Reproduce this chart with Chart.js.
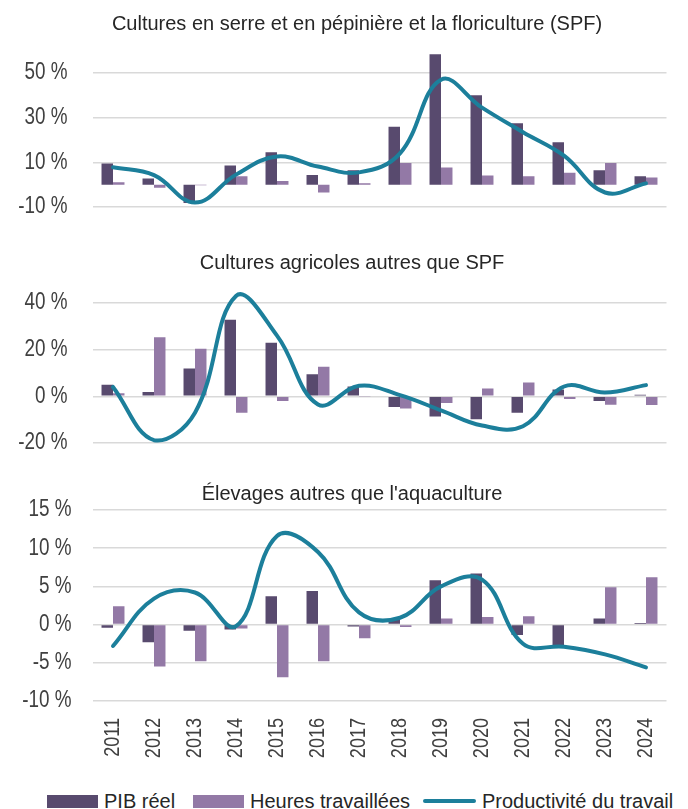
<!DOCTYPE html>
<html>
<head>
<meta charset="utf-8">
<script src="https://cdn.jsdelivr.net/npm/chart.js@4.4.1/dist/chart.umd.min.js"></script>
<style>
    body {
        margin: 0;
        background: #fff;
        width: 688px;
        height: 809px;
        overflow: hidden;
        position: relative;
        font-family: "Liberation Sans", Arial, sans-serif;
    }
    canvas { position: absolute; left: 0; }
    #chart-spf { top: 0; }
    #chart-agri { top: 235px; }
    #chart-elev { top: 466px; }
    .legend-item {
        position: absolute;
        top: 788px;
        height: 26px;
        display: flex;
        align-items: center;
        font-size: 20px;
        color: #262626;
        white-space: nowrap;
    }
    .swatch { width: 51px; height: 13px; margin-right: 6px; }
    .swatch-line { width: 53px; height: 4px; border-radius: 2px; margin-right: 6px; }
</style>
</head>
<body>
<canvas id="chart-spf" width="704" height="252"></canvas>
<canvas id="chart-agri" width="694" height="253"></canvas>
<canvas id="chart-elev" width="694" height="300"></canvas>

<div class="legend-item" style="left:47px"><span class="swatch" style="background:#584a6e"></span>PIB réel</div>
<div class="legend-item" style="left:193px"><span class="swatch" style="background:#9379a6"></span>Heures travaillées</div>
<div class="legend-item" style="left:423px"><span class="swatch-line" style="background:#1c7f9b"></span>Productivité du travail</div>

<script>
// Categories
const years = ['2011', '2012', '2013', '2014', '2015', '2016', '2017',
               '2018', '2019', '2020', '2021', '2022', '2023', '2024'];

// Cultures en serre et en pépinière et la floriculture (SPF), % change
const spfPib     = [9.5, 2.8, -8.2, 8.6, 14.5, 4.3, 6.5, 25.9, 58.4, 40.1, 27.5, 19.0, 6.5, 3.8];
const spfHeures  = [1.1, -1.4, -0.3, 3.8, 1.6, -3.5, 0.6, 9.7, 7.7, 4.1, 3.8, 5.3, 9.7, 3.2];
const spfProd    = [7.8, 4.3, -8.0, 4.5, 12.6, 8.1, 5.5, 14.0, 47.0, 34.5, 23.5, 13.0, -3.5, 0.6];
const spfTicks   = [-10, 10, 30, 50];

// Cultures agricoles autres que SPF
const agriPib    = [5.0, 1.9, 11.9, 32.8, 23.0, 9.4, 4.2, -4.6, -8.6, -9.8, -7.0, 2.9, -2.0, 0.7];
const agriHeures = [1.3, 25.3, 20.4, -7.0, -2.0, 12.7, -0.2, -5.2, -2.9, 3.3, 5.9, -1.2, -3.6, -3.7];
const agriProd   = [4.0, -18.8, -7.0, 43.0, 26.0, -3.5, 4.5, 0.5, -6.0, -12.5, -12.8, 4.2, 1.6, 4.8];
const agriTicks  = [-20, 0, 20, 40];

// Élevages autres que l'aquaculture
const elevPib    = [-0.4, -2.3, -0.8, -0.65, 3.7, 4.4, -0.25, 0.6, 5.8, 6.7, -1.35, -2.9, 0.8, 0.2];
const elevHeures = [2.4, -5.5, -4.8, -0.5, -6.9, -4.8, -1.8, -0.3, 0.8, 1.0, 1.1, 0.0, 4.9, 6.2];
const elevProd   = [-2.8, 3.4, 4.2, -0.2, 11.6, 9.5, 1.6, 0.9, 5.0, 5.9, -2.5, -2.9, -3.9, -5.6];
const elevTicks  = [-10, -5, 0, 5, 10, 15];

const DARK = '#584a6e';
const LIGHT = '#9379a6';
const TEAL = '#1c7f9b';
const TITLE_SIZE = 20;

Chart.defaults.font.family = '"Liberation Sans", Arial, sans-serif';
Chart.defaults.color = '#404040';

// No narrow font installed: squeeze the axis labels horizontally (titles stay normal)
const narrowText = {
    id: 'narrowText',
    beforeInit(chart) {
        const ctx = chart.ctx;
        const fill = ctx.fillText.bind(ctx);
        ctx.fillText = function(text, x, y) {
            const squeeze = ctx.font.indexOf(TITLE_SIZE + 'px') === -1 ? 0.82 : 1;
            ctx.save();
            ctx.translate(x, y);
            ctx.scale(squeeze, 1);
            fill(text, 0, 0);
            ctx.restore();
        };
    }
};

// Build one panel
function makePanel(id, cfg) {
    const ctx = document.getElementById(id);
    // space under the plot: the year axis on the last panel, plain padding elsewhere
    const bottomPad = cfg.showYears ? 0 : ctx.height - cfg.areaBottom;

    const chart = new Chart(ctx, {
        type: 'bar',
        plugins: [narrowText],
        data: {
            labels: years,
            datasets: [
                {
                    type: 'line',
                    label: 'Productivité du travail',
                    data: cfg.prod,
                    borderColor: TEAL,
                    borderWidth: 4,
                    borderCapStyle: 'round',
                    pointRadius: 0,
                    tension: 0.4,
                    order: 0
                },
                {
                    label: 'PIB réel',
                    data: cfg.pib,
                    backgroundColor: DARK,
                    barPercentage: 1,
                    categoryPercentage: 0.56,
                    order: 1
                },
                {
                    label: 'Heures travaillées',
                    data: cfg.heures,
                    backgroundColor: LIGHT,
                    barPercentage: 1,
                    categoryPercentage: 0.56,
                    order: 1
                }
            ]
        },
        options: {
            responsive: false,
            animation: false,
            layout: {
                padding: { left: 10, right: 0, top: 0, bottom: bottomPad }
            },
            scales: {
                x: {
                    display: cfg.showYears,
                    grid: { display: false, drawTicks: false },
                    border: { display: false },
                    ticks: {
                        maxRotation: 90,
                        minRotation: 90,
                        padding: 17,
                        font: { size: 22 },
                        color: '#404040'
                    },
                    afterFit: function(scale) {
                        scale.height = cfg.showYears ? 65 : 0;
                    }
                },
                y: {
                    min: cfg.min,
                    max: cfg.max,
                    grid: { color: '#d9d9d9', lineWidth: 1.5, drawTicks: false },
                    border: { display: false },
                    ticks: {
                        padding: cfg.tickPad,
                        font: { size: 23 },
                        color: '#404040',
                        callback: function(value) {
                            return value + '\u00a0%';
                        }
                    },
                    afterBuildTicks: function(scale) {
                        scale.ticks = cfg.ticks.map(v => ({ value: v }));
                    },
                    afterFit: function(scale) {
                        scale.width = 82.5;
                    }
                },
                // empty axis on the right, only to keep the title centred like the original
                yRight: {
                    position: 'right',
                    grid: { display: false, drawTicks: false },
                    border: { display: false },
                    ticks: { display: false },
                    afterFit: function(scale) {
                        scale.width = cfg.rightSpace;
                    }
                }
            },
            plugins: {
                legend: { display: false },
                tooltip: { enabled: false },
                title: {
                    display: true,
                    text: cfg.title,
                    color: '#262626',
                    font: { size: TITLE_SIZE, weight: 'normal' },
                    padding: { top: cfg.titleTop, bottom: 10 }
                }
            }
        }
    });

    // line the plot area top up with the original
    chart.options.plugins.title.padding.bottom += cfg.areaTop - chart.chartArea.top;
    chart.update();
    return chart;
}

makePanel('chart-spf', {
    title: 'Cultures en serre et en pépinière et la floriculture (SPF)',
    pib: spfPib, heures: spfHeures, prod: spfProd, ticks: spfTicks,
    min: -10, max: 60, tickPad: 25,
    rightSpace: 37.5, titleTop: 12,
    areaTop: 50.7, areaBottom: 207,
    showYears: false
});

makePanel('chart-agri', {
    title: 'Cultures agricoles autres que SPF',
    pib: agriPib, heures: agriHeures, prod: agriProd, ticks: agriTicks,
    min: -20, max: 50, tickPad: 25,
    rightSpace: 27.5, titleTop: 16,
    areaTop: 44.6, areaBottom: 208,
    showYears: false
});

makePanel('chart-elev', {
    title: "Élevages autres que l'aquaculture",
    pib: elevPib, heures: elevHeures, prod: elevProd, ticks: elevTicks,
    min: -10, max: 15, tickPad: 21,
    rightSpace: 27.5, titleTop: 16,
    areaTop: 44, areaBottom: 234,
    showYears: true
});
</script>
</body>
</html>
